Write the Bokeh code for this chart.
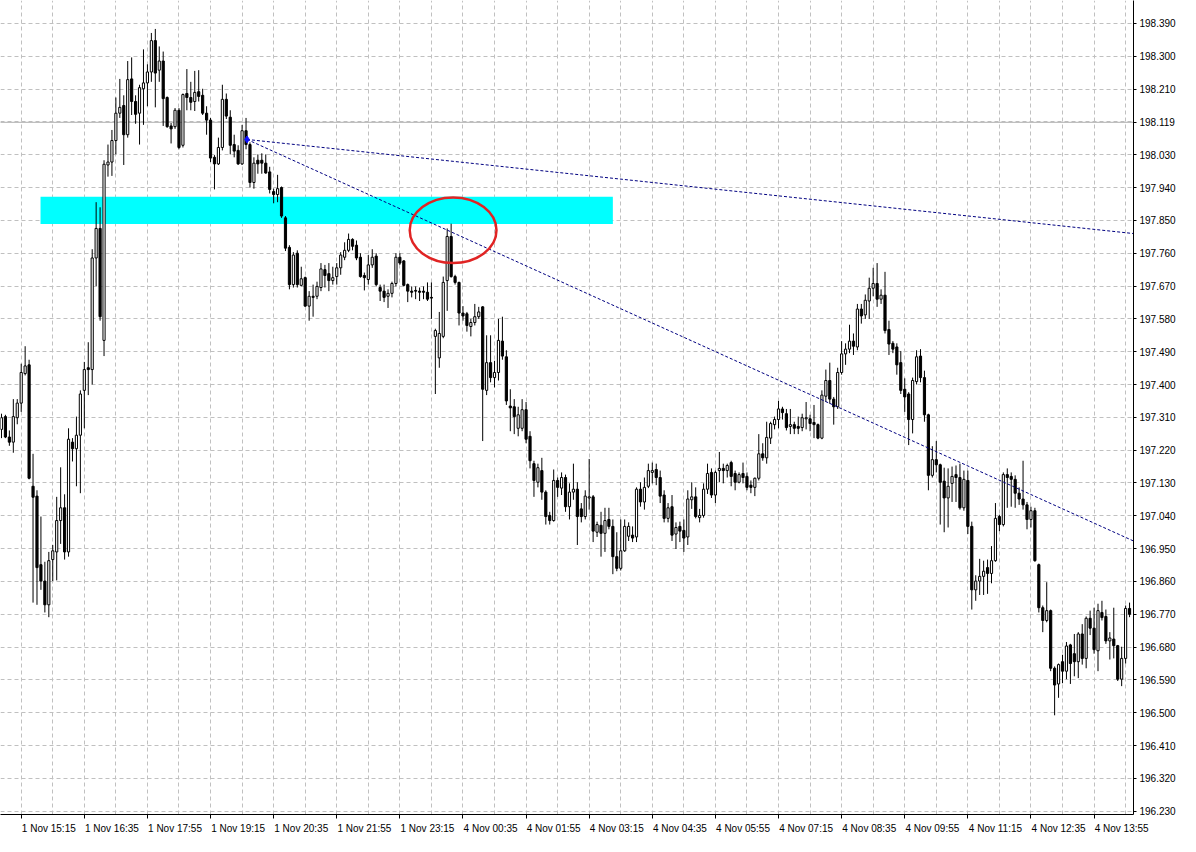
import numpy as np
from bokeh.plotting import figure
from bokeh.models import Range1d, FixedTicker, PrintfTickFormatter, ColumnDataSource
from bokeh.embed import file_html
from bokeh.resources import INLINE

# ---------------- data (M5 candles, 1 Nov 14:50 -> 4 Nov 14:20) ----------------
opens = [
    197.277, 197.312, 197.256, 197.242, 197.309, 197.349, 197.430, 197.454, 197.121, 197.094,
    196.906, 196.861, 196.796, 196.920, 196.941, 197.027, 197.062, 196.941, 197.242, 197.224,
    197.261, 197.384, 197.446, 197.441, 197.747, 197.828, 197.521, 198.002, 198.010, 198.069,
    198.144, 198.165, 198.085, 198.238, 198.176, 198.144, 198.211, 198.227, 198.257, 198.343,
    198.262, 198.287, 198.187, 198.109, 198.107, 198.152, 198.056, 198.198, 198.187, 198.176,
    198.203, 198.193, 198.144, 198.125, 198.023, 198.005, 198.050, 198.182, 198.133, 198.058,
    198.042, 198.005, 198.096, 198.058, 197.954, 198.015, 198.015, 198.007, 197.983, 197.929,
    197.921, 197.940, 197.857, 197.776, 197.674, 197.760, 197.672, 197.693, 197.615, 197.642,
    197.642, 197.666, 197.715, 197.704, 197.685, 197.696, 197.720, 197.749, 197.768, 197.798,
    197.782, 197.749, 197.699, 197.688, 197.728, 197.752, 197.666, 197.656, 197.642, 197.650,
    197.677, 197.749, 197.739, 197.674, 197.656, 197.658, 197.656, 197.656, 197.653, 197.639,
    197.532, 197.473, 197.532, 197.685, 197.806, 197.696, 197.680, 197.596, 197.594, 197.559,
    197.570, 197.586, 197.613, 197.384, 197.460, 197.419, 197.433, 197.519, 197.476, 197.341,
    197.339, 197.280, 197.280, 197.331, 197.258, 197.183, 197.132, 197.164, 197.105, 197.041,
    197.027, 197.137, 197.116, 197.145, 197.065, 197.105, 197.113, 197.059, 197.038, 197.089,
    197.092, 196.995, 197.014, 196.992, 197.030, 197.011, 196.928, 196.896, 196.944, 196.984,
    196.987, 196.982, 197.113, 197.078, 197.121, 197.159, 197.167, 197.145, 197.097, 197.033,
    197.065, 196.990, 197.011, 197.000, 196.982, 197.084, 197.092, 197.035, 197.041, 197.113,
    197.159, 197.097, 197.164, 197.170, 197.164, 197.186, 197.156, 197.132, 197.156, 197.148,
    197.124, 197.118, 197.143, 197.210, 197.199, 197.253, 197.290, 197.304, 197.333, 197.320,
    197.285, 197.290, 197.285, 197.282, 197.306, 197.306, 197.296, 197.290, 197.253, 197.368,
    197.411, 197.360, 197.339, 197.433, 197.484, 197.497, 197.519, 197.503, 197.607, 197.591,
    197.629, 197.664, 197.677, 197.634, 197.645, 197.551, 197.513, 197.503, 197.460, 197.387,
    197.374, 197.304, 197.408, 197.478, 197.419, 197.317, 197.151, 197.194, 197.180, 197.135,
    197.089, 197.129, 197.153, 197.145, 197.062, 197.137, 197.011, 196.837, 196.861, 196.874,
    196.898, 196.882, 196.917, 197.038, 197.016, 197.153, 197.148, 197.140, 197.102, 197.086,
    197.070, 197.030, 197.054, 196.906, 196.788, 196.753, 196.780, 196.622, 196.579, 196.640,
    196.614, 196.686, 196.662, 196.640, 196.716, 196.649, 196.759, 196.732, 196.670, 196.775,
    196.764, 196.697, 196.702, 196.684, 196.592, 196.649, 196.786,
]
highs = [
    197.320, 197.317, 197.274, 197.360, 197.360, 197.457, 197.505, 197.468, 197.210, 197.110,
    197.038, 196.914, 196.941, 196.960, 197.092, 197.173, 197.099, 197.280, 197.253, 197.312,
    197.384, 197.462, 197.516, 197.771, 197.900, 197.886, 198.015, 198.058, 198.098, 198.187,
    198.238, 198.193, 198.287, 198.297, 198.193, 198.222, 198.319, 198.278, 198.364, 198.375,
    198.327, 198.313, 198.190, 198.117, 198.158, 198.158, 198.198, 198.265, 198.230, 198.260,
    198.262, 198.211, 198.163, 198.131, 198.029, 198.077, 198.222, 198.198, 198.152, 198.085,
    198.056, 198.112, 198.131, 198.064, 198.023, 198.031, 198.034, 198.031, 197.997, 197.937,
    197.975, 197.943, 197.862, 197.782, 197.763, 197.768, 197.723, 197.696, 197.656, 197.674,
    197.682, 197.733, 197.728, 197.733, 197.723, 197.733, 197.763, 197.790, 197.814, 197.801,
    197.795, 197.760, 197.707, 197.755, 197.771, 197.760, 197.674, 197.674, 197.661, 197.682,
    197.760, 197.760, 197.741, 197.677, 197.669, 197.669, 197.666, 197.669, 197.680, 197.680,
    197.553, 197.599, 197.696, 197.828, 197.841, 197.701, 197.682, 197.615, 197.599, 197.580,
    197.621, 197.613, 197.615, 197.535, 197.535, 197.465, 197.580, 197.586, 197.494, 197.387,
    197.360, 197.339, 197.360, 197.352, 197.272, 197.191, 197.183, 197.199, 197.110, 197.051,
    197.167, 197.145, 197.159, 197.153, 197.129, 197.183, 197.132, 197.075, 197.110, 197.196,
    197.097, 197.024, 197.051, 197.062, 197.062, 197.030, 196.995, 197.030, 197.030, 197.022,
    197.011, 197.118, 197.132, 197.145, 197.183, 197.186, 197.183, 197.164, 197.110, 197.075,
    197.097, 197.022, 197.024, 197.030, 197.110, 197.132, 197.118, 197.059, 197.129, 197.183,
    197.170, 197.164, 197.215, 197.183, 197.183, 197.191, 197.164, 197.159, 197.186, 197.159,
    197.137, 197.145, 197.264, 197.239, 197.298, 197.298, 197.312, 197.355, 197.339, 197.333,
    197.333, 197.298, 197.312, 197.320, 197.352, 197.317, 197.344, 197.293, 197.384, 197.441,
    197.460, 197.366, 197.446, 197.519, 197.513, 197.564, 197.540, 197.621, 197.621, 197.647,
    197.693, 197.720, 197.733, 197.661, 197.709, 197.575, 197.519, 197.513, 197.492, 197.417,
    197.379, 197.419, 197.494, 197.497, 197.438, 197.320, 197.231, 197.245, 197.183, 197.172,
    197.170, 197.175, 197.178, 197.183, 197.164, 197.164, 197.024, 196.877, 196.922, 196.917,
    196.920, 196.957, 197.075, 197.043, 197.159, 197.170, 197.159, 197.151, 197.118, 197.191,
    197.078, 197.065, 197.062, 196.909, 196.794, 196.858, 196.783, 196.627, 196.635, 196.659,
    196.694, 196.689, 196.716, 196.721, 196.743, 196.764, 196.780, 196.788, 196.799, 196.807,
    196.783, 196.721, 196.788, 196.686, 196.681, 196.794, 196.802,
]
lows = [
    197.253, 197.253, 197.232, 197.213, 197.291, 197.325, 197.425, 197.140, 196.802, 196.796,
    196.837, 196.775, 196.762, 196.861, 196.863, 196.963, 196.920, 196.928, 197.189, 197.121,
    197.102, 197.280, 197.371, 197.400, 197.669, 197.575, 197.478, 197.970, 197.972, 198.031,
    198.131, 198.002, 198.077, 198.139, 198.115, 198.058, 198.112, 198.163, 198.230, 198.160,
    198.230, 198.109, 198.104, 198.061, 198.101, 198.045, 198.050, 198.152, 198.152, 198.150,
    198.176, 198.139, 198.085, 198.010, 197.935, 198.002, 198.042, 198.128, 198.031, 198.023,
    198.002, 198.002, 198.045, 197.940, 197.937, 197.978, 197.978, 197.978, 197.924, 197.897,
    197.900, 197.857, 197.766, 197.661, 197.666, 197.666, 197.669, 197.613, 197.575, 197.586,
    197.634, 197.656, 197.666, 197.656, 197.674, 197.674, 197.701, 197.741, 197.763, 197.768,
    197.741, 197.693, 197.658, 197.674, 197.720, 197.669, 197.629, 197.626, 197.610, 197.639,
    197.669, 197.728, 197.669, 197.626, 197.639, 197.634, 197.629, 197.634, 197.629, 197.580,
    197.374, 197.446, 197.527, 197.602, 197.693, 197.674, 197.562, 197.575, 197.545, 197.532,
    197.562, 197.580, 197.245, 197.371, 197.406, 197.392, 197.411, 197.468, 197.344, 197.272,
    197.264, 197.258, 197.272, 197.239, 197.170, 197.092, 197.118, 197.084, 197.016, 197.016,
    197.024, 197.092, 197.097, 197.051, 197.030, 197.084, 196.960, 197.022, 197.030, 197.057,
    196.968, 196.982, 196.928, 196.941, 197.003, 196.880, 196.888, 196.890, 196.941, 196.971,
    196.968, 196.968, 197.065, 197.057, 197.116, 197.129, 197.124, 197.075, 197.022, 197.022,
    196.971, 196.949, 196.968, 196.941, 196.960, 197.059, 197.033, 197.022, 197.035, 197.100,
    197.089, 197.075, 197.132, 197.129, 197.145, 197.121, 197.110, 197.129, 197.129, 197.110,
    197.102, 197.094, 197.137, 197.191, 197.183, 197.237, 197.277, 197.280, 197.304, 197.274,
    197.264, 197.264, 197.264, 197.272, 197.277, 197.272, 197.253, 197.250, 197.250, 197.352,
    197.347, 197.290, 197.333, 197.427, 197.454, 197.486, 197.481, 197.494, 197.567, 197.580,
    197.580, 197.642, 197.613, 197.621, 197.540, 197.481, 197.486, 197.427, 197.374, 197.325,
    197.234, 197.266, 197.400, 197.406, 197.298, 197.110, 197.145, 197.159, 197.016, 196.995,
    197.008, 197.078, 197.078, 197.057, 197.054, 196.990, 196.783, 196.807, 196.823, 196.823,
    196.826, 196.855, 196.914, 196.998, 197.011, 197.062, 197.065, 197.062, 197.070, 197.057,
    197.003, 197.008, 196.914, 196.775, 196.721, 196.748, 196.614, 196.493, 196.541, 196.581,
    196.592, 196.579, 196.600, 196.595, 196.632, 196.622, 196.713, 196.662, 196.614, 196.753,
    196.689, 196.646, 196.649, 196.587, 196.573, 196.635, 196.762,
]
closes = [
    197.309, 197.256, 197.242, 197.312, 197.349, 197.433, 197.451, 197.143, 197.091, 196.898,
    196.861, 196.796, 196.917, 196.944, 197.027, 197.062, 196.941, 197.250, 197.224, 197.261,
    197.374, 197.441, 197.441, 197.747, 197.828, 197.586, 198.004, 198.010, 198.069, 198.144,
    198.160, 198.085, 198.236, 198.176, 198.141, 198.214, 198.227, 198.257, 198.343, 198.254,
    198.287, 198.184, 198.107, 198.101, 198.152, 198.050, 198.195, 198.187, 198.174, 198.201,
    198.190, 198.144, 198.125, 198.021, 198.005, 198.050, 198.182, 198.136, 198.056, 198.040,
    198.005, 198.096, 198.058, 197.954, 198.007, 198.005, 198.007, 197.980, 197.935, 197.921,
    197.937, 197.862, 197.774, 197.674, 197.755, 197.674, 197.690, 197.615, 197.642, 197.639,
    197.669, 197.717, 197.699, 197.685, 197.693, 197.720, 197.755, 197.768, 197.798, 197.779,
    197.747, 197.696, 197.693, 197.728, 197.749, 197.674, 197.656, 197.639, 197.650, 197.677,
    197.749, 197.733, 197.672, 197.656, 197.653, 197.656, 197.653, 197.653, 197.634, 197.637,
    197.548, 197.540, 197.680, 197.806, 197.696, 197.680, 197.596, 197.588, 197.562, 197.570,
    197.586, 197.599, 197.387, 197.460, 197.419, 197.433, 197.521, 197.478, 197.355, 197.336,
    197.312, 197.317, 197.331, 197.250, 197.191, 197.137, 197.172, 197.105, 197.038, 197.027,
    197.137, 197.118, 197.145, 197.065, 197.105, 197.113, 197.038, 197.038, 197.094, 197.092,
    196.998, 197.016, 196.992, 197.027, 197.011, 196.928, 196.896, 196.944, 197.011, 197.011,
    196.979, 197.113, 197.078, 197.118, 197.164, 197.164, 197.145, 197.094, 197.033, 197.062,
    196.987, 197.008, 196.998, 196.979, 197.086, 197.092, 197.038, 197.041, 197.113, 197.156,
    197.097, 197.159, 197.170, 197.164, 197.178, 197.148, 197.132, 197.153, 197.145, 197.118,
    197.118, 197.143, 197.210, 197.199, 197.255, 197.293, 197.304, 197.333, 197.323, 197.282,
    197.290, 197.280, 197.280, 197.309, 197.309, 197.293, 197.290, 197.253, 197.371, 197.411,
    197.360, 197.339, 197.433, 197.484, 197.497, 197.519, 197.505, 197.607, 197.588, 197.631,
    197.664, 197.677, 197.634, 197.645, 197.548, 197.511, 197.497, 197.454, 197.384, 197.366,
    197.304, 197.411, 197.476, 197.419, 197.317, 197.151, 197.194, 197.180, 197.132, 197.089,
    197.121, 197.148, 197.145, 197.062, 197.140, 197.011, 196.837, 196.861, 196.874, 196.888,
    196.882, 196.917, 197.033, 197.016, 197.153, 197.145, 197.140, 197.102, 197.086, 197.070,
    197.030, 197.054, 196.917, 196.788, 196.753, 196.780, 196.622, 196.576, 196.632, 196.614,
    196.683, 196.635, 196.640, 196.716, 196.649, 196.759, 196.732, 196.673, 196.780, 196.761,
    196.697, 196.705, 196.684, 196.592, 196.649, 196.786, 196.770,
]

time_labels = ["1 Nov 15:15", "1 Nov 16:35", "1 Nov 17:55", "1 Nov 19:15", "1 Nov 20:35",
               "1 Nov 21:55", "1 Nov 23:15", "4 Nov 00:35", "4 Nov 01:55", "4 Nov 03:15",
               "4 Nov 04:35", "4 Nov 05:55", "4 Nov 07:15", "4 Nov 08:35", "4 Nov 09:55",
               "4 Nov 11:15", "4 Nov 12:35", "4 Nov 13:55"]
first_label_bar = 5       # bar index of "1 Nov 15:15"
bars_per_label = 16

price_levels = [198.390, 198.300, 198.210, 198.120, 198.030, 197.940, 197.850, 197.760,
                197.670, 197.580, 197.490, 197.400, 197.310, 197.220, 197.130, 197.040,
                196.950, 196.860, 196.770, 196.680, 196.590, 196.500, 196.410, 196.320, 196.230]
bid_price = 198.119

# supply zone (bar indices / prices)
zone_start_bar, zone_end_bar = 9.9, 155.0
zone_low, zone_high = 197.840, 197.915

# trend lines: common anchor and right-edge end prices
trend_anchor_bar, trend_anchor_price = 62.25, 198.072
trend_end_bar = 287.0
trend_end_prices = [197.814, 196.971]

# highlight ellipse
ellipse_bar, ellipse_price = 114.5, 197.823
ellipse_w_bars, ellipse_h_price = 22.0, 0.180

FONT = "Liberation Sans"
FS = "10px"

# ---------------- build ----------------
n = len(opens)
assert n == len(highs) == len(lows) == len(closes)
idx = np.arange(n)
o = np.array(opens); h = np.array(highs); l = np.array(lows); c = np.array(closes)
h = np.maximum(h, np.maximum(o, c)); l = np.minimum(l, np.minimum(o, c))
bull = c >= o
src = ColumnDataSource(dict(
    x=idx, high=h, low=l,
    top=np.maximum(o, c), bottom=np.minimum(o, c),
    fill=np.where(bull, "white", "black"),
))

p = figure(width=1180, height=836,
           x_range=Range1d(-0.25, 287.0), y_range=Range1d(196.221, 198.453),
           output_backend="svg", toolbar_location=None, y_axis_location="right",
           min_border_left=0, min_border_top=0, min_border_right=47, min_border_bottom=21)
p.outline_line_color = None
p.background_fill_color = "white"
p.border_fill_color = "white"

# grids
p.xgrid.ticker = FixedTicker(ticks=list(range(first_label_bar - 8, n + 8, 8)))
p.ygrid.ticker = FixedTicker(ticks=price_levels)
for g in (p.xgrid[0], p.ygrid[0]):
    g.grid_line_color = "#c0c0c0"
    g.grid_line_dash = "4 3"
    g.grid_line_width = 1

# supply zone
p.quad(left=[zone_start_bar], right=[zone_end_bar], bottom=[zone_low], top=[zone_high],
       fill_color="#00ffff", line_color=None)

# bid line
p.line([-1, n + 1], [bid_price, bid_price], line_color="#b0b0b0", line_width=1)

# candles
p.segment(x0="x", y0="low", x1="x", y1="high", source=src, line_color="black", line_width=1)
p.vbar(x="x", width=0.55, top="top", bottom="bottom", source=src,
       fill_color="fill", line_color="black", line_width=1)

# trend lines
for ep in trend_end_prices:
    p.line([trend_anchor_bar, trend_end_bar], [trend_anchor_price, ep],
           line_color="#000080", line_width=1, line_dash="3 2")
p.scatter([trend_anchor_bar], [trend_anchor_price], marker="diamond", size=7,
          fill_color="#1010ff", line_color="#1010ff")

# ellipse
p.ellipse(x=[ellipse_bar], y=[ellipse_price], width=[ellipse_w_bars], height=[ellipse_h_price],
          fill_color=None, line_color="#e02424", line_width=2.5)

# right price axis (bid price replaces the nearby level)
ya = p.yaxis[0]
ya.ticker = FixedTicker(ticks=[t for t in price_levels if abs(t - bid_price) > 0.02] + [bid_price])
ya.formatter = PrintfTickFormatter(format="%.3f")
ya.axis_line_color = "black"
ya.major_tick_out = 3
ya.major_tick_in = 0
ya.minor_tick_line_color = None
ya.major_label_standoff = 3
ya.major_label_text_font = FONT
ya.major_label_text_font_size = FS
ya.major_label_text_color = "black"

# bottom time axis: small tick at each label's bar, label text starting at that tick
label_bars = [first_label_bar + bars_per_label * k for k in range(len(time_labels))]
label_pos = [b + 7 for b in label_bars]
xa = p.xaxis[0]
xa.ticker = FixedTicker(ticks=label_pos, minor_ticks=label_bars)
xa.major_label_overrides = {pos: lab for pos, lab in zip(label_pos, time_labels)}
xa.axis_line_color = "black"
xa.major_tick_line_color = None
xa.major_tick_out = 0
xa.major_tick_in = 0
xa.minor_tick_line_color = "black"
xa.minor_tick_out = 4
xa.minor_tick_in = 0
xa.major_label_standoff = 4
xa.major_label_text_font = FONT
xa.major_label_text_font_size = FS
xa.major_label_text_color = "black"

open("out.html", "w").write(file_html(p, INLINE))
